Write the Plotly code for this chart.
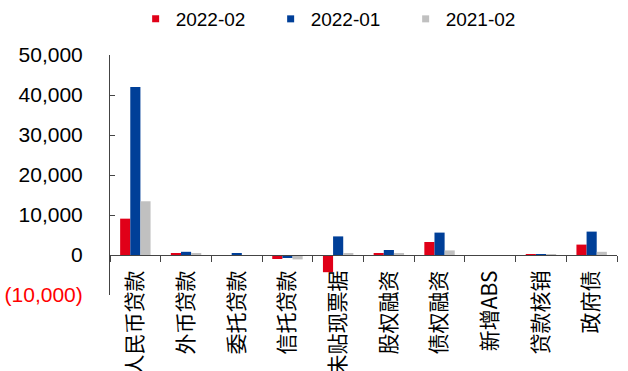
import plotly.graph_objects as go

categories = ["人民币贷款", "外币贷款", "委托贷款", "信托贷款", "未贴现票据",
              "股权融资", "债权融资", "新增ABS", "贷款核销", "政府债"]
s_2022_02 = [9084, 400, -10, -1000, -4300, 400, 3250, 0, 100, 2600]
s_2022_01 = [41988, 800, 300, -750, 4650, 1250, 5600, -100, 150, 5850]
s_2021_02 = [13432, 400, 0, -1100, 400, 500, 1150, -200, 80, 800]

y_tickvals = [-10000, 0, 10000, 20000, 30000, 40000, 50000]
y_ticktext = ['<span style="color:#FF0000">(10,000)</span>', "0", "10,000",
              "20,000", "30,000", "40,000", "50,000"]

series = [("2022-02", s_2022_02, "#E00018"),
          ("2022-01", s_2022_01, "#003F98"),
          ("2021-02", s_2021_02, "#C0C0C0")]

fig = go.Figure()
for name, vals, color in series:
    fig.add_trace(go.Bar(x=categories, y=vals, name=name, showlegend=False,
                         marker=dict(color=color, line=dict(width=0))))
for name, vals, color in series:
    fig.add_trace(go.Scatter(x=[None], y=[None], mode="markers", name=name,
                             marker=dict(symbol="square", size=7, color=color)))

fig.update_layout(
    width=628, height=371,
    margin=dict(l=110, r=11, t=55, b=76, autoexpand=False),
    paper_bgcolor="white", plot_bgcolor="white",
    barmode="group", bargap=0.4, bargroupgap=0,
    font=dict(family="Liberation Sans, Arial, Noto Sans CJK SC", color="#000000"),
    showlegend=True,
    legend=dict(orientation="h", x=0.216, xref="container", y=1, yref="container",
                xanchor="left", yanchor="top", font=dict(size=19),
                entrywidth=90, itemwidth=30, tracegroupgap=0,
                bgcolor="rgba(0,0,0,0)"),
    xaxis=dict(anchor="free", position=1/6, showline=True, linecolor="#444444",
               linewidth=1, ticks="outside", tickson="boundaries", ticklen=6,
               tickcolor="#444444", tickangle=-90, automargin=False,
               ticklabelstandoff=6,
               tickfont=dict(size=21, family="Noto Sans CJK SC, Liberation Sans")),
    yaxis=dict(range=[-10000, 50000], tickvals=y_tickvals, ticktext=y_ticktext,
               showline=True, linecolor="#444444", linewidth=1, ticks="inside",
               ticklen=5, tickcolor="#444444", showgrid=False, zeroline=False,
               tickfont=dict(size=21), ticklabelstandoff=22, automargin=False),
)

fig.write_html("out.html")
